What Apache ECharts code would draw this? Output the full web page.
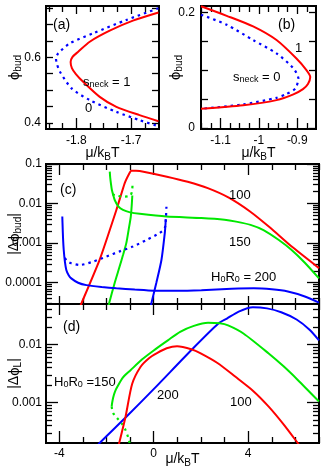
<!DOCTYPE html>
<html>
<head>
<meta charset="utf-8">
<script src="https://cdn.jsdelivr.net/npm/echarts@6/dist/echarts.min.js"></script>
<style>html,body{margin:0;padding:0;background:#fff}#c{width:325px;height:472px}</style>
</head>
<body>
<div id="c"></div>
<script>
// ---------------- DATA ----------------
// Panel (a): phi_bud vs mu/kBT
const a_mu_s1  = [-1.650, -1.6967, -1.7391, -1.7755, -1.7967, -1.8073, -1.8105, -1.8082, -1.8009, -1.7876, -1.7573, -1.7269, -1.6845, -1.650];
const a_phi_s1 = [0.7372, 0.7121, 0.6815, 0.6478, 0.6172, 0.6009, 0.5856, 0.5672, 0.5489, 0.5253, 0.4793, 0.4487, 0.4233, 0.4049];
const a_mu_s0  = [-1.650, -1.7087, -1.7695, -1.8118, -1.8331, -1.8373, -1.8355, -1.830, -1.8087, -1.7755, -1.7269, -1.6845, -1.650];
const a_phi_s0 = [0.7501, 0.7142, 0.6735, 0.6429, 0.6123, 0.5969, 0.5795, 0.5559, 0.5051, 0.4692, 0.4334, 0.4080, 0.3896];
// Panel (b)
const b_mu_s1  = [-1.151, -1.084, -1.015, -0.954, -0.902, -0.876, -0.866, -0.872, -0.885, -0.910, -0.954, -1.041, -1.151];
const b_phi_s1 = [0.2105, 0.194, 0.1756, 0.152, 0.120, 0.100, 0.088, 0.076, 0.067, 0.058, 0.048, 0.039, 0.033];
const b_mu_s0  = [-1.151, -1.084, -1.015, -0.954, -0.910, -0.897, -0.905, -0.930, -0.954, -1.041, -1.151];
const b_phi_s0 = [0.196, 0.1785, 0.152, 0.129, 0.103, 0.0855, 0.068, 0.058, 0.052, 0.0405, 0.033];
// Panel (c): |d phi_bud|
const c_mu_100  = [-3.12, -3.06, -2.29, -1.58, -1.23, -1.05, -0.95, -0.75, -0.59, 0.56, 1.44, 2.29, 3.18, 4.08, 4.95, 5.83, 7.0];
const c_val_100 = [2.5e-5, 3.0e-5, 3.8e-4, 6.9e-3, 0.0324, 0.055, 0.0676, 0.068, 0.0665, 0.0479, 0.0355, 0.0245, 0.0141, 0.0063, 0.0024, 8.3e-4, 2.34e-4];
const c_mu_150a  = [-1.86, -1.84, -1.81, -1.77, -1.72, -1.65, -1.50, -1.30, -1.0, -0.59, 0.54, 2.02, 3.0, 3.49, 4.1, 4.65, 5.3, 5.83, 6.4, 7.0];
const c_val_150a = [0.064, 0.045, 0.032, 0.022, 0.017, 0.0123, 0.0085, 0.0069, 0.006, 0.0055, 0.0047, 0.0043, 0.0039, 0.0035, 0.0029, 0.00214, 0.0012, 6.8e-4, 3.2e-4, 1.29e-4];
const c_mu_150b  = [-1.93, -1.89, -1.65, -1.44, -1.30, -1.16, -1.06, -0.97, -0.93, -0.905];
const c_val_150b = [2.5e-5, 3.0e-5, 1.0e-4, 2.6e-4, 5.0e-4, 1.0e-3, 2.2e-3, 4.7e-3, 0.009, 0.016];
const c_mu_150u  = [-1.75, -1.55, -1.3, -1.1, -0.98, -0.93, -0.905, -0.895];
const c_val_150u = [0.0172, 0.0158, 0.0150, 0.0152, 0.0162, 0.019, 0.024, 0.031];
const c_mu_200a  = [-3.87, -3.855, -3.84, -3.81, -3.76, -3.70, -3.6, -3.49, -3.2, -2.85, -2.2, -1.58, -0.8, 0, 1.0, 2.02, 3.3, 4.24, 5.0, 5.68, 6.4, 7.0];
const c_val_200a = [0.0047, 0.0025, 0.0014, 6.8e-4, 3.4e-4, 2.1e-4, 1.55e-4, 1.29e-4, 1.0e-4, 8.7e-5, 7.8e-5, 7.2e-5, 6.7e-5, 6.3e-5, 6.3e-5, 6.5e-5, 7.0e-5, 7.2e-5, 6.8e-5, 6.0e-5, 4.5e-5, 3.15e-5];
const c_mu_200b  = [-0.13, -0.10, 0.11, 0.33, 0.47, 0.50, 0.51];
const c_val_200b = [2.5e-5, 3.0e-5, 9.8e-5, 3.8e-4, 1.8e-3, 3.0e-3, 4.0e-3];
const c_mu_200u  = [-3.77, -3.62, -3.49, -3.14, -2.57, -2.0, -1.44, -0.88, -0.31, 0.25, 0.47, 0.52, 0.54];
const c_val_200u = [4.2e-4, 3.4e-4, 3.1e-4, 2.8e-4, 3.4e-4, 4.6e-4, 6.2e-4, 8.2e-4, 1.2e-3, 1.8e-3, 2.4e-3, 4.7e-3, 8.3e-3];
// Panel (d): |d phi_L|
const d_mu_200  = [-2.4, -2.29, -1.19, 0, 1.62, 2.74, 3.1, 3.6, 4.2, 4.8, 5.4, 6.05, 6.6, 7.0];
const d_val_200 = [1.75e-4, 2.0e-4, 5.5e-4, 1.7e-3, 8.2e-3, 0.023, 0.028, 0.037, 0.044, 0.042, 0.036, 0.027, 0.018, 0.0118];
const d_mu_150  = [-1.78, -1.76, -1.72, -1.65, -1.54, -1.3, -0.98, -0.5, 0, 0.6, 1.12, 1.7, 2.3, 2.8, 3.15, 3.8, 4.87, 5.5, 6.1, 7.0];
const d_val_150 = [8.5e-4, 9.8e-4, 1.2e-3, 1.5e-3, 1.86e-3, 2.7e-3, 3.6e-3, 5.5e-3, 7.9e-3, 0.0118, 0.0166, 0.021, 0.0238, 0.0232, 0.0214, 0.0155, 0.0070, 0.0042, 0.00245, 0.00104];
const d_mu_150u  = [-1.78, -1.72, -1.55, -1.35, -1.2, -1.08, -1.02, -0.99];
const d_val_150u = [8.5e-4, 6.6e-4, 5.4e-4, 4.3e-4, 3.4e-4, 2.5e-4, 2.0e-4, 1.75e-4];
const d_mu_100  = [-1.5, -1.46, -1.19, -0.91, -0.56, -0.2, 0.14, 0.55, 0.99, 1.62, 1.97, 2.7, 3.45, 4.2, 4.87, 5.5, 6.1, 6.2];
const d_val_100 = [1.75e-4, 2.0e-4, 5.75e-4, 2.1e-3, 4.1e-3, 5.8e-3, 7.1e-3, 8.6e-3, 9.3e-3, 8.2e-3, 7.1e-3, 4.8e-3, 2.8e-3, 1.6e-3, 8.5e-4, 4.2e-4, 2.0e-4, 1.75e-4];

// Tick labels / positions
const a_xLabels = [-1.8, -1.7];
const a_xMinor  = [-1.85, -1.825, -1.775, -1.75, -1.725, -1.675];
const a_yLabels = [0.4, 0.6];
const a_yTicks  = [0.4, 0.45, 0.5, 0.55, 0.6, 0.65, 0.7, 0.75];
const b_xLabels = [-1.1, -1, -0.9];
const b_xMinor  = [-1.15, -1.125, -1.075, -1.05, -1.025, -0.975, -0.95, -0.925, -0.875];
const b_yLabels = [0, 0.2];
const b_yTicks  = [0, 0.05, 0.1, 0.15, 0.2];
const cd_xLabels = [-4, 0, 4];
const cd_xMinor  = [-3, -2, -1, 1, 2, 3, 5, 6, 7];
const c_yDecades = [0.0001, 0.001, 0.01, 0.1];
const d_yDecades = [0.001, 0.01];

// ---------------- CHART ----------------
const FONT = '"Liberation Sans", Arial, Helvetica, sans-serif';
const RED = '#ff0000', GREEN = '#00e800', BLUE = '#0000ff';
const L10 = Math.log10;

const A_X = [-1.8555, -1.649], A_Y = [0.381, 0.757];
const B_X = [-1.151, -0.851], B_Y = [-0.002, 0.211];
const CD_X = [-4.56, 7.0];
const C_Y = [L10(2.9e-5), L10(0.1)];
const D_Y = [L10(2e-4), L10(0.05)];

function logMinor(range) {
  const out = [];
  for (let n = -6; n <= 0; n++) for (let k = 2; k <= 9; k++) {
    const v = L10(k) + n;
    if (v > range[0] + 1e-6 && v < range[1] - 1e-6) out.push(v);
  }
  return out;
}
function logMajor(range) {
  const out = [];
  for (let n = -6; n <= 0; n++) if (n >= range[0] - 1e-9 && n <= range[1] + 1e-9) out.push(n);
  return out;
}

const nameRich = {
  m: {fontSize: 14, fontFamily: FONT, color: '#000'},
  p: {fontSize: 15, fontFamily: FONT, color: '#000'},
  s: {fontSize: 10, fontFamily: FONT, color: '#000', padding: [7, 0, 0, 0]}
};
const MU_NAME = '{m|μ/k}{s|B}{m|T}';

const xAxis = [], yAxis = [];
function addAxes(arr, dim, gi, range, spec) {
  const sides = dim === 'x' ? ['bottom', 'top'] : ['left', 'right'];
  const first = arr.length;
  sides.forEach((pos, si) => {
    const lens = si === 0 ? spec.len : (spec.len2 || spec.len);
    [spec.major, spec.minor].forEach((vals, ti) => {
      const main = si === 0 && ti === 0;
      const ax = {
        type: 'value', gridIndex: gi, position: pos, min: range[0], max: range[1],
        axisLine: {show: false, onZero: false},
        splitLine: {show: false},
        axisTick: vals.length ? {show: true, inside: true, length: lens[ti], customValues: vals,
                   lineStyle: {color: '#000', width: 1.3}} : {show: false},
        axisLabel: {show: false},
        nameMoveOverlap: false
      };
      if (main && spec.labels) {
        ax.axisLabel = {show: true, customValues: spec.labels, formatter: spec.fmt, margin: spec.margin,
                        color: '#000', fontSize: 12, fontFamily: FONT};
      }
      if (main && spec.name) {
        ax.name = spec.name;
        ax.nameLocation = 'middle';
        ax.nameGap = spec.nameGap;
        if (dim === 'y') ax.nameRotate = 90;
        ax.nameTextStyle = {fontSize: 14, fontFamily: FONT, color: '#000', rich: nameRich};
      }
      arr.push(ax);
    });
  });
  return first;
}
const fmtStr = v => String(Math.round(v * 1000) / 1000);
const fmt1 = v => v.toFixed(1);
const fmtLog = v => { const n = Math.round(-v); return n <= 0 ? String(Math.pow(10, -n)) : Math.pow(10, -n).toFixed(n); };

// grid 0: (a)
const ax0 = addAxes(xAxis, 'x', 0, A_X, {major: a_xLabels, minor: a_xMinor, len: [11, 6], len2: [8, 6],
  labels: a_xLabels, fmt: fmt1, margin: 6, name: MU_NAME, nameGap: 16});
const ay0 = addAxes(yAxis, 'y', 0, A_Y, {major: a_yTicks, minor: [], len: [7, 4],
  labels: a_yLabels, fmt: fmt1, margin: 5, name: '{p|ϕ}{s|bud}', nameGap: 23});
// grid 1: (b)
const ax1 = addAxes(xAxis, 'x', 1, B_X, {major: b_xLabels, minor: b_xMinor, len: [11, 6], len2: [8, 6],
  labels: b_xLabels, fmt: fmtStr, margin: 6, name: MU_NAME, nameGap: 16});
const ay1 = addAxes(yAxis, 'y', 1, B_Y, {major: b_yTicks, minor: [], len: [7, 4],
  labels: b_yLabels, fmt: fmtStr, margin: 6, name: '{p|ϕ}{s|bud}', nameGap: 17});
// grid 2: (c)
const ax2 = addAxes(xAxis, 'x', 2, CD_X, {major: cd_xLabels, minor: cd_xMinor, len: [8, 6], len2: [11, 6]});
const ay2 = addAxes(yAxis, 'y', 2, C_Y, {major: logMajor(C_Y), minor: logMinor(C_Y), len: [12, 6],
  labels: c_yDecades.map(L10), fmt: fmtLog, margin: 4, name: '{m||Δ}{p|ϕ}{s|bud}{m||}', nameGap: 23});
// grid 3: (d)
const ax3 = addAxes(xAxis, 'x', 3, CD_X, {major: cd_xLabels, minor: cd_xMinor, len: [12, 6], len2: [11, 6],
  labels: cd_xLabels, fmt: fmtStr, margin: 5, name: MU_NAME, nameGap: 8});
const ay3 = addAxes(yAxis, 'y', 3, D_Y, {major: logMajor(D_Y), minor: logMinor(D_Y), len: [12, 6],
  labels: d_yDecades.map(L10), fmt: fmtLog, margin: 4, name: '{m||Δ}{p|ϕ}{s|L}{m||}', nameGap: 23});

const lin = (xs, ys) => xs.map((x, i) => [x, ys[i]]);
const lg  = (xs, ys) => xs.map((x, i) => [x, L10(ys[i])]);

function S(xi, yi, data, color, dashed, smooth) {
  return {
    type: 'line', xAxisIndex: xi, yAxisIndex: yi, data, showSymbol: false, symbol: 'none',
    smooth: smooth === undefined ? 0.25 : smooth, clip: true, animation: false, silent: true,
    lineStyle: {color, width: dashed ? 2.2 : 2, type: dashed ? [2.5, 4] : 'solid', cap: 'butt'},
    z: 3
  };
}

const series = [
  S(ax0, ay0, lin(a_mu_s0, a_phi_s0), BLUE, true),
  S(ax0, ay0, lin(a_mu_s1, a_phi_s1), RED, false),
  S(ax1, ay1, lin(b_mu_s0, b_phi_s0), BLUE, true),
  S(ax1, ay1, lin(b_mu_s1, b_phi_s1), RED, false),
  S(ax2, ay2, lg(c_mu_100, c_val_100), RED, false, 0.15),
  S(ax2, ay2, lg(c_mu_150a, c_val_150a), GREEN, false, 0.2),
  S(ax2, ay2, lg(c_mu_150b, c_val_150b), GREEN, false),
  S(ax2, ay2, lg(c_mu_150u, c_val_150u), GREEN, true),
  S(ax2, ay2, lg(c_mu_200a, c_val_200a), BLUE, false, 0.2),
  S(ax2, ay2, lg(c_mu_200b, c_val_200b), BLUE, false),
  S(ax2, ay2, lg(c_mu_200u, c_val_200u), BLUE, true),
  S(ax3, ay3, lg(d_mu_200, d_val_200), BLUE, false),
  S(ax3, ay3, lg(d_mu_150, d_val_150), GREEN, false),
  S(ax3, ay3, lg(d_mu_150u, d_val_150u), GREEN, true),
  S(ax3, ay3, lg(d_mu_100, d_val_100), RED, false)
];

const lblRich = {
  m: {fontSize: 13, fontFamily: FONT, color: '#000'},
  s: {fontSize: 9, fontFamily: FONT, color: '#000', padding: [6, 0, 0, 0]},
  r: {fontSize: 13, fontFamily: FONT, color: RED},
  g: {fontSize: 13, fontFamily: FONT, color: GREEN},
  b: {fontSize: 13, fontFamily: FONT, color: BLUE},
  P: {fontSize: 14, fontFamily: FONT, color: '#000'}
};
function T(x, y, text) {
  return {type: 'text', x, y, z: 50, silent: true,
    style: {text, rich: lblRich, align: 'left', verticalAlign: 'middle', fontFamily: FONT, fontSize: 13, fill: '#000'}};
}
const graphic = [
  T(53, 25, '{P|(a)}'),
  T(83, 82, '{m|s}{s|neck}{m| = }{r|1}'),
  T(85, 108, '{b|0}'),
  T(278, 25, '{P|(b)}'),
  T(295, 48, '{r|1}'),
  T(233, 77, '{m|s}{s|neck}{m| = }{b|0}'),
  T(60, 190, '{P|(c)}'),
  T(229, 195, '{r|100}'),
  T(229, 242, '{g|150}'),
  T(211, 277, '{m|H}{s|0}{m|R}{s|0}{m| = }{b|200}'),
  T(63, 327, '{P|(d)}'),
  T(54, 382, '{m|H}{s|0}{m|R}{s|0}{m| =}{g|150}'),
  T(157, 395, '{b|200}'),
  T(230, 402, '{r|100}')
];

const gridBase = {show: true, borderColor: '#000', borderWidth: 2, backgroundColor: 'transparent',
                  containLabel: false, outerBoundsMode: 'none'};
const option = {
  animation: false,
  backgroundColor: '#fff',
  textStyle: {fontFamily: FONT},
  grid: [
    Object.assign({left: 46, top: 6, width: 113, height: 123}, gridBase),
    Object.assign({left: 201, top: 6, width: 115, height: 123}, gridBase),
    Object.assign({left: 46, top: 164, width: 273, height: 140}, gridBase),
    Object.assign({left: 46, top: 304, width: 273, height: 139}, gridBase)
  ],
  xAxis, yAxis, series, graphic
};
const chart = echarts.init(document.getElementById('c'), null, {renderer: 'canvas'});
chart.setOption(option);
</script>
</body>
</html>
